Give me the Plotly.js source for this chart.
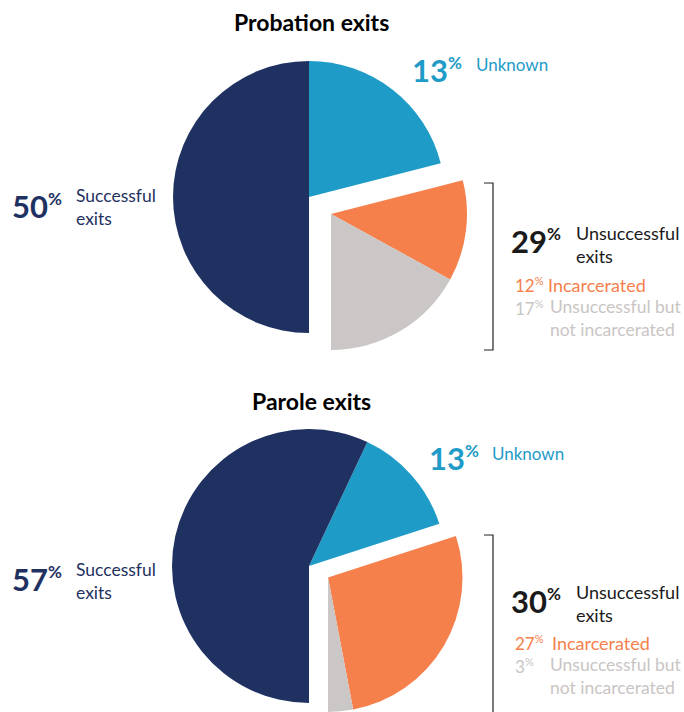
<!DOCTYPE html>
<html>
<head>
<meta charset="utf-8">
<script src="https://cdn.plot.ly/plotly-3.0.1.min.js"></script>
<style>html,body{margin:0;padding:0;background:#fff;}#chart{width:684px;height:712px;}</style>
</head>
<body>
<div id="chart"></div>
<script>
// ---- data ----
var categories = ["Unknown", "Incarcerated", "Unsuccessful but not incarcerated", "Successful exits"];
var probationValues = [21, 12, 17, 50];   // slice shares as drawn
var paroleValues = [13, 27, 3, 57];
var probationLabels = ["13", "12", "17", "50", "29"]; // unknown, incarcerated, not incarcerated, successful, unsuccessful total
var paroleLabels = ["13", "27", "3", "57", "30"];
var titles = ["Probation exits", "Parole exits"];

var colors = ["#1e9bc7", "#f5804b", "#cbc7c6", "#1f3161"];
var clear = "rgba(0,0,0,0)";
var W = 684, H = 712;

function dom(cx, cy, r) {
  return {x: [(cx - r) / W, (cx + r) / W], y: [1 - (cy + r) / H, 1 - (cy - r) / H]};
}
function rot(vals) {
  var s = 0; for (var i = 0; i < 3; i++) s += vals[i];
  var t = 0; vals.forEach(function (v) { t += v; });
  return 180 - s / t * 360;
}
function pie(vals, d, cols) {
  return {
    type: "pie", values: vals, labels: categories, sort: false, direction: "clockwise",
    rotation: rot(vals), domain: d, textinfo: "none", hoverinfo: "none", showlegend: false,
    marker: {colors: cols, line: {width: 0}}
  };
}
var mainCols = [colors[0], clear, clear, colors[3]];
var pullCols = [clear, colors[1], colors[2], clear];

var traces = [
  pie(probationValues, dom(309, 197, 136), mainCols),
  pie(probationValues, dom(331, 214, 136), pullCols),
  pie(paroleValues, dom(309, 566, 137), mainCols),
  pie(paroleValues, dom(328, 580, 137), pullCols)
];

var F = "Lato, 'Open Sans', sans-serif";
function ann(x, y, text, size, color, opts) {
  var a = {x: x / W, y: 1 - y / H, xref: "paper", yref: "paper", text: text, showarrow: false,
    xanchor: "left", yanchor: "middle", align: "left",
    font: {family: F, size: size, color: color}};
  if (opts) for (var k in opts) a[k] = opts[k];
  return a;
}
function big(n) { return "<b>" + n + "<sup><span style='font-size:17px'>%</span></sup></b>"; }
function small(n) { return n + "<sup><span style='font-size:11px'>%</span></sup>"; }

var navy = "#1f3161", blue = "#1e9bc7", orange = "#f5804b", grey = "#c9c5c4", black = "#1a1a1a";
var titleFont = {family: F, size: 23, color: "#000", weight: 900};
var annotations = [
  // Probation
  ann(311, 22, "<b>" + titles[0] + "</b>", 23, "#000", {xanchor: "center", font: titleFont}),
  ann(410, 70, big(probationLabels[0]), 31, blue),
  ann(474, 64, categories[0], 17, blue),
  ann(10, 206, big(probationLabels[3]), 31, navy),
  ann(74, 207, "Successful<br>exits", 17.5, navy),
  ann(509, 241, big(probationLabels[4]), 31, black),
  ann(574, 244, "Unsuccessful<br>exits", 18, black),
  ann(513, 285, small(probationLabels[1]), 17, orange),
  ann(546, 285, "Incarcerated", 18, orange),
  ann(513, 308, small(probationLabels[2]), 17, grey),
  ann(548, 318, "Unsuccessful but<br>not incarcerated", 17.5, grey),
  // Parole
  ann(311, 401, "<b>" + titles[1] + "</b>", 23, "#000", {xanchor: "center", font: titleFont}),
  ann(427, 458, big(paroleLabels[0]), 31, blue),
  ann(490, 453, categories[0], 17, blue),
  ann(10, 579, big(paroleLabels[3]), 31, navy),
  ann(74, 581, "Successful<br>exits", 17.5, navy),
  ann(509, 601, big(paroleLabels[4]), 31, black),
  ann(574, 603, "Unsuccessful<br>exits", 18, black),
  ann(513, 643, small(paroleLabels[1]), 17, orange),
  ann(550, 643, "Incarcerated", 18, orange),
  ann(513, 666, small(paroleLabels[2]), 17, grey),
  ann(548, 676, "Unsuccessful but<br>not incarcerated", 17.5, grey)
];

function px(x) { return x / W; }
function py(y) { return 1 - y / H; }
var lineStyle = {color: "#222", width: 1.2};
var shapes = [
  {type: "path", xref: "paper", yref: "paper", line: lineStyle,
   path: "M" + px(484) + "," + py(183) + " L" + px(493) + "," + py(183) + " L" + px(493) + "," + py(350) + " L" + px(484) + "," + py(350)},
  {type: "path", xref: "paper", yref: "paper", line: lineStyle,
   path: "M" + px(484) + "," + py(535) + " L" + px(493) + "," + py(535) + " L" + px(493) + "," + py(712)}
];

var layout = {
  width: W, height: H, margin: {l: 0, r: 0, t: 0, b: 0},
  paper_bgcolor: "#fff", plot_bgcolor: "#fff",
  showlegend: false, annotations: annotations, shapes: shapes,
  font: {family: F}
};
Plotly.newPlot("chart", traces, layout, {staticPlot: true, displayModeBar: false});
</script>
</body>
</html>
